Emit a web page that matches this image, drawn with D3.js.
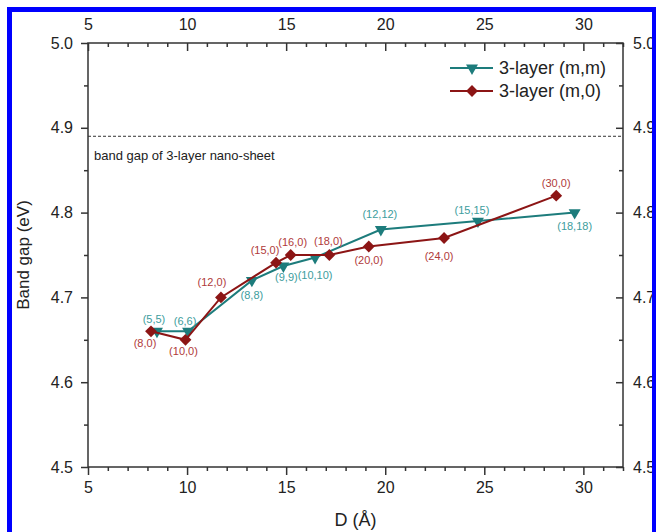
<!DOCTYPE html>
<html lang="en">
<head>
<meta charset="utf-8">
<title>Band gap vs D</title>
<script src="https://cdn.jsdelivr.net/npm/d3@7"></script>
<style>
  body { margin: 0; background: #fff; }
  svg { display: block; font-family: "Liberation Sans", Arial, sans-serif; }
  .axis path, .axis line { stroke: #333; stroke-width: 1.5; }
  .axis text { font-size: 16px; fill: #222; }
</style>
</head>
<body>
<script>
// data
var dMM = [8.48, 10.05, 13.27, 14.86, 16.46, 19.78, 24.68, 29.56];
var eMM = [4.66, 4.66, 4.72, 4.737, 4.747, 4.78, 4.79, 4.80];
var labelsMM = ["(5,5)", "(6,6)", "(8,8)", "(9,9)", "(10,10)", "(12,12)", "(15,15)", "(18,18)"];

var dM0 = [8.18, 9.92, 11.71, 14.49, 15.23, 17.18, 19.17, 22.97, 28.63];
var eM0 = [4.66, 4.65, 4.70, 4.741, 4.75, 4.75, 4.76, 4.77, 4.82];
var labelsM0 = ["(8,0)", "(10,0)", "(12,0)", "(15,0)", "(16,0)", "(18,0)", "(20,0)", "(24,0)", "(30,0)"];

var sheetGap = 4.89;
var xTicks = [5, 10, 15, 20, 25, 30];
var yTicks = [4.5, 4.6, 4.7, 4.8, 4.9, 5.0];

// where each point label sits relative to its marker (px)
var labelPos = {
  "(5,5)": [-3, -12], "(6,6)": [-3, -10], "(8,8)": [0, 15], "(9,9)": [3, 11],
  "(10,10)": [0, 18], "(12,12)": [-1, -15], "(15,15)": [-6, -11], "(18,18)": [0, 14],
  "(8,0)": [-6, 12], "(10,0)": [-2, 11], "(12,0)": [-9, -15], "(15,0)": [-11, -12],
  "(16,0)": [2, -13], "(18,0)": [-1, -14], "(20,0)": [0, 14], "(24,0)": [-5, 18],
  "(30,0)": [0, -12]
};

var teal = "#1d7c7c", tealText = "#3d9d9d";
var red = "#8c1515", redText = "#b03a3a";

var W = 656, H = 532;
var plotL = 88, plotR = 623, plotT = 43, plotB = 467;

var svg = d3.select("body").append("svg")
  .attr("width", W).attr("height", H);

svg.append("rect").attr("width", W).attr("height", H).attr("fill", "#fff");

var x = d3.scaleLinear().domain([5, 32]).range([plotL, plotR]);
var y = d3.scaleLinear().domain([4.5, 5.0]).range([plotB, plotT]);

var xMinor = d3.range(5, 33).filter(function(v) { return v % 5 !== 0; });
var yMinor = [4.55, 4.65, 4.75, 4.85, 4.95];

// frame
svg.append("rect")
  .attr("x", plotL).attr("y", plotT)
  .attr("width", plotR - plotL).attr("height", plotB - plotT)
  .attr("fill", "none").attr("stroke", "#333").attr("stroke-width", 1.5);

// bottom axis
svg.append("g").attr("class", "axis")
  .attr("transform", "translate(0," + plotB + ")")
  .call(d3.axisBottom(x).tickValues(xTicks).tickSize(8).tickPadding(7).tickFormat(d3.format("d")));
svg.append("g").attr("class", "axis")
  .attr("transform", "translate(0," + plotB + ")")
  .call(d3.axisBottom(x).tickValues(xMinor).tickSize(4).tickFormat(""));

// top axis (ticks point down into the plot)
svg.append("g").attr("class", "axis")
  .attr("transform", "translate(0," + plotT + ")")
  .call(d3.axisTop(x).tickValues(xTicks).tickSize(-8).tickPadding(13).tickFormat(d3.format("d")));
svg.append("g").attr("class", "axis")
  .attr("transform", "translate(0," + plotT + ")")
  .call(d3.axisTop(x).tickValues(xMinor).tickSize(-4).tickFormat(""));

// left axis
svg.append("g").attr("class", "axis")
  .attr("transform", "translate(" + plotL + ",0)")
  .call(d3.axisLeft(y).tickValues(yTicks).tickSize(7).tickPadding(8).tickFormat(d3.format(".1f")));
svg.append("g").attr("class", "axis")
  .attr("transform", "translate(" + plotL + ",0)")
  .call(d3.axisLeft(y).tickValues(yMinor).tickSize(4).tickFormat(""));

// right axis (ticks point left into the plot)
svg.append("g").attr("class", "axis")
  .attr("transform", "translate(" + plotR + ",0)")
  .call(d3.axisRight(y).tickValues(yTicks).tickSize(-7).tickPadding(10).tickFormat(d3.format(".1f")));
svg.append("g").attr("class", "axis")
  .attr("transform", "translate(" + plotR + ",0)")
  .call(d3.axisRight(y).tickValues(yMinor).tickSize(-4).tickFormat(""));

svg.selectAll(".axis .domain").remove();

// axis titles
svg.append("text")
  .attr("transform", "translate(23," + ((plotT + plotB) / 2) + ") rotate(-90)")
  .attr("text-anchor", "middle").attr("dy", "0.35em")
  .attr("font-size", 17).attr("fill", "#222")
  .text("Band gap (eV)");

svg.append("text")
  .attr("x", (plotL + plotR) / 2).attr("y", 520)
  .attr("text-anchor", "middle").attr("dy", "0.35em")
  .attr("font-size", 18).attr("fill", "#222")
  .text("D (Å)");

// nano-sheet reference line
svg.append("line")
  .attr("x1", plotL).attr("x2", plotR)
  .attr("y1", y(sheetGap)).attr("y2", y(sheetGap))
  .attr("stroke", "#333").attr("stroke-width", 1)
  .attr("stroke-dasharray", "3,2");
svg.append("text")
  .attr("x", plotL + 6).attr("y", y(sheetGap) + 24)
  .attr("font-size", 13).attr("fill", "#222")
  .text("band gap of 3-layer nano-sheet");

var triDown = d3.symbol().type(d3.symbolTriangle).size(62);
var diamond = d3.symbol().type(d3.symbolSquare).size(70);

function drawSeries(ds, es, labels, color, textColor, kind) {
  var pts = ds.map(function(d, i) { return { d: d, e: es[i], label: labels[i] }; });
  var line = d3.line()
    .x(function(p) { return x(p.d); })
    .y(function(p) { return y(p.e); });

  svg.append("path").datum(pts)
    .attr("d", line)
    .attr("fill", "none").attr("stroke", color).attr("stroke-width", 2);

  svg.selectAll(null).data(pts).enter().append("path")
    .attr("d", kind === "tri" ? triDown : diamond)
    .attr("transform", function(p) {
      return "translate(" + x(p.d) + "," + y(p.e) + ") rotate(" + (kind === "tri" ? 180 : 45) + ")";
    })
    .attr("fill", color);

  svg.selectAll(null).data(pts).enter().append("text")
    .attr("x", function(p) { return x(p.d) + labelPos[p.label][0]; })
    .attr("y", function(p) { return y(p.e) + labelPos[p.label][1]; })
    .attr("dy", "0.35em")
    .attr("text-anchor", "middle")
    .attr("font-size", 11).attr("fill", textColor)
    .text(function(p) { return p.label; });
}

drawSeries(dMM, eMM, labelsMM, teal, tealText, "tri");
drawSeries(dM0, eM0, labelsM0, red, redText, "dia");

// legend
var legend = [
  { name: "3-layer (m,m)", color: teal, kind: "tri" },
  { name: "3-layer (m,0)", color: red, kind: "dia" }
];
var lg = svg.selectAll(".legend").data(legend).enter().append("g")
  .attr("transform", function(d, i) { return "translate(450," + (68 + i * 23) + ")"; });
lg.append("line")
  .attr("x1", 0).attr("x2", 43)
  .attr("stroke", function(d) { return d.color; }).attr("stroke-width", 2);
lg.append("path")
  .attr("d", function(d) { return d.kind === "tri" ? triDown() : diamond(); })
  .attr("transform", function(d) { return "translate(22,0) rotate(" + (d.kind === "tri" ? 180 : 45) + ")"; })
  .attr("fill", function(d) { return d.color; });
lg.append("text")
  .attr("x", 49).attr("dy", "0.35em")
  .attr("font-size", 18).attr("fill", "#222")
  .text(function(d) { return d.name; });

// blue border round the figure
svg.append("rect")
  .attr("x", 9.5).attr("y", 9.5)
  .attr("width", 645).attr("height", 600)
  .attr("fill", "none").attr("stroke", "#0000ff").attr("stroke-width", 5);
</script>
</body>
</html>
